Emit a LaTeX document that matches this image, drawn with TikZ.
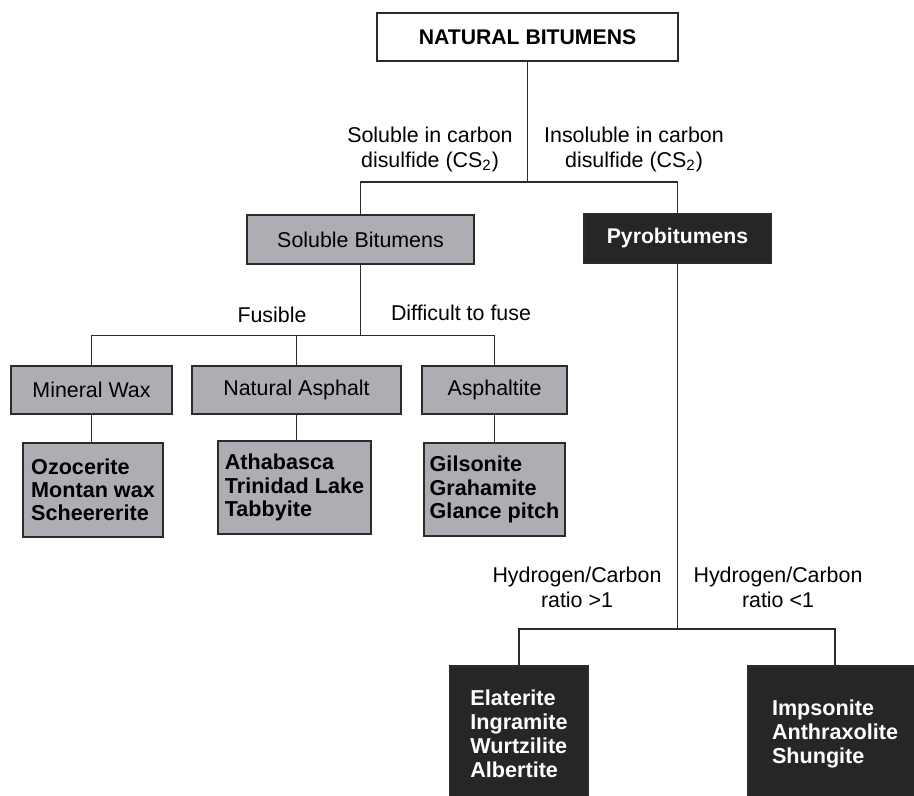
\documentclass[tikz,border=0pt]{standalone}
\usepackage{fontspec}
\setmainfont{Liberation Sans}
\definecolor{BoxGrey}{HTML}{ADADB4}
\definecolor{BoxDark}{HTML}{262626}
\definecolor{Ink}{HTML}{2B2B2B}
\tikzset{
  every picture/.style={line width=0.75pt},
  catbox/.style={
    draw=Ink,
    line width=1pt,
    align=center,
    font=\fontsize{10.7}{12.5}\selectfont,
    inner sep=0pt
  },
  rootbox/.style={catbox, fill=white, font=\fontsize{10.6}{12.5}\selectfont\bfseries},
  softbox/.style={catbox, fill=BoxGrey},
  pyrobox/.style={catbox, fill=BoxDark, text=white, font=\fontsize{10.6}{12.5}\selectfont\bfseries},
  listbox/.style={softbox, align=left, font=\fontsize{10.8}{11.6}\selectfont\bfseries},
  darklist/.style={pyrobox, align=left, font=\fontsize{10.8}{12}\selectfont\bfseries},
  branchlabel/.style={align=center, font=\fontsize{10.7}{12.5}\selectfont, inner sep=0pt},
  link/.style={draw=Ink}
}

\begin{document}
\begin{tikzpicture}[x=0.5pt, y=-0.5pt]
  \clip (0,0) rectangle (914,796);
  \fill[white] (0,0) rectangle (914,796);

  \node[rootbox, minimum width=150.5pt, minimum height=24pt] (nb) at (527.5,37) {NATURAL BITUMENS};
  \node[softbox, minimum width=113.5pt, minimum height=24.5pt] (sol) at (360.5,240) {Soluble Bitumens};
  \node[pyrobox, minimum width=93.5pt, minimum height=24.5pt] (pyro) at (677.5,238.5) {Pyrobitumens};

  \node[softbox, minimum width=80.5pt, minimum height=24pt] (wax) at (91.5,390) {Mineral Wax};
  \node[softbox, minimum width=104.5pt, minimum height=24pt] (nasph) at (296.5,390) {Natural Asphalt};
  \node[softbox, minimum width=72.5pt, minimum height=24pt] (aspt) at (494.5,390) {Asphaltite};

  \node[listbox, minimum width=70pt, minimum height=47pt] (waxlist) at (93,490) {Ozocerite\\Montan wax\\Scheererite};
  \node[listbox, minimum width=76.5pt, minimum height=46.5pt] (nasphlist) at (294.5,487.5) {Athabasca\\Trinidad Lake\\Tabbyite};
  \node[listbox, minimum width=70.5pt, minimum height=46.5pt] (asptlist) at (494.5,489.5) {Gilsonite\\Grahamite\\Glance pitch};

  \node[darklist, minimum width=69pt, minimum height=68pt] (hilist) at (519,734) {Elaterite\\Ingramite\\Wurtzilite\\Albertite};
  \node[darklist, minimum width=87pt, minimum height=68pt] (lolist) at (835,734) {Impsonite\\Anthraxolite\\Shungite};

  \node[branchlabel] (sollbl) at (430,149.5) {Soluble in carbon\\disulfide (CS\textsubscript{2})};
  \node[branchlabel] (insollbl) at (634,149.5) {Insoluble in carbon\\disulfide (CS\textsubscript{2})};
  \node[branchlabel] (fuslbl) at (272,315) {Fusible};
  \node[branchlabel] (difflbl) at (461,313) {Difficult to fuse};
  \node[branchlabel] (hilbl) at (577,587.5) {Hydrogen/Carbon\\ratio >1};
  \node[branchlabel] (lolbl) at (778,587.5) {Hydrogen/Carbon\\ratio <1};

  \draw[link] (nb.south) -- ++(0,120) coordinate (j1);
  \draw[link] (sol.north) |- (j1) -| (pyro.north);
  \draw[link] (sol.south) -- ++(0,70) coordinate (j2);
  \draw[link] (wax.north) |- (j2) -| (aspt.north);
  \draw[link] (nasph.north) -- (nasph.north |- j2);
  \draw[link] (wax.south) -- (wax.south |- waxlist.north);
  \draw[link] (nasph.south) -- (nasph.south |- nasphlist.north);
  \draw[link] (aspt.south) -- (aspt.south |- asptlist.north);
  \draw[link] (pyro.south) -- ++(0,365) coordinate (j3);
  \draw[link] (hilist.north) |- (j3) -| (lolist.north);
\end{tikzpicture}
\end{document}
